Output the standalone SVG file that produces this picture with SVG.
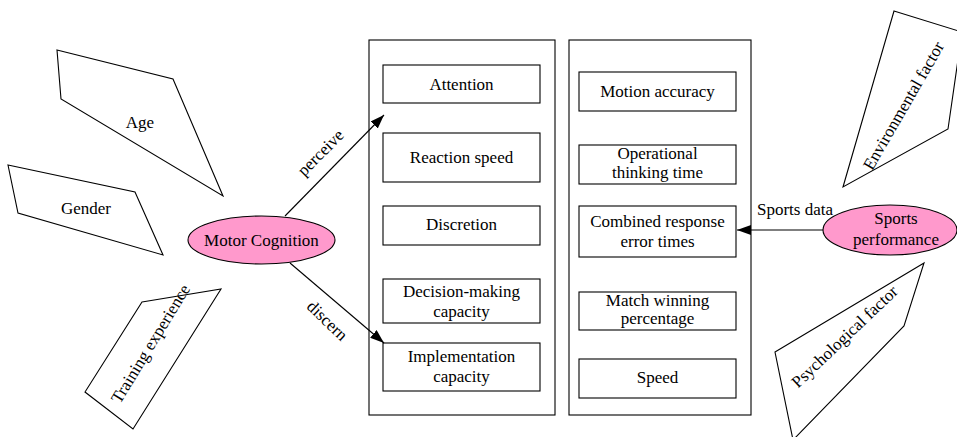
<svg xmlns="http://www.w3.org/2000/svg" width="957" height="437" viewBox="0 0 957 437">
  <style>
    .shape { fill: #ffffff; stroke: #000000; stroke-width: 1.1; }
    .oval { fill: #ff99cc; stroke: #000000; stroke-width: 1.1; }
    .edge { fill: none; stroke: #000000; stroke-width: 1.1; }
    text { font-family: "Liberation Serif", "Times New Roman", serif; font-size: 17px; fill: #000000; text-anchor: middle; }
  </style>
  <defs>
    <marker id="arrow" markerWidth="14" markerHeight="10" refX="14" refY="5" orient="auto" markerUnits="userSpaceOnUse">
      <path d="M0,0 L14,5 L0,10 Z" fill="#000000"/>
    </marker>
  </defs>
  <rect width="957" height="437" fill="#ffffff"/>

  <!-- influencing factors, left -->
  <g id="age">
    <polygon class="shape" points="57,50 173,79 223,196 61,99"/>
    <text x="140" y="128">Age</text>
  </g>
  <g id="gender">
    <polygon class="shape" points="8,165 135,192 163,255 18,213"/>
    <text x="86" y="214">Gender</text>
  </g>
  <g id="training">
    <polygon class="shape" points="142,302 221,289 133,429 85,392"/>
    <text x="151" y="344" dy="0.3em" transform="rotate(-58.6 151 344)">Training experience</text>
  </g>

  <!-- central concept -->
  <g id="motor-cognition">
    <ellipse class="oval" cx="261.5" cy="240" rx="73.5" ry="24"/>
    <text x="261.5" y="246">Motor Cognition</text>
  </g>

  <!-- cognition components -->
  <g id="cognition-panel">
    <rect class="shape" x="369" y="40" width="186" height="375"/>
  </g>
  <g id="attention">
    <rect class="shape" x="383" y="65" width="157" height="38"/>
    <text x="461.5" y="90">Attention</text>
  </g>
  <g id="reaction-speed">
    <rect class="shape" x="383" y="133" width="157" height="49"/>
    <text x="461.5" y="163">Reaction speed</text>
  </g>
  <g id="discretion">
    <rect class="shape" x="383" y="206" width="157" height="39"/>
    <text x="461.5" y="230">Discretion</text>
  </g>
  <g id="decision-making">
    <rect class="shape" x="383" y="279" width="157" height="44"/>
    <text x="461.5" y="297">Decision-making</text>
    <text x="461.5" y="317">capacity</text>
  </g>
  <g id="implementation">
    <rect class="shape" x="383" y="343" width="157" height="48"/>
    <text x="461.5" y="362">Implementation</text>
    <text x="461.5" y="382">capacity</text>
  </g>

  <!-- performance indicators -->
  <g id="performance-panel">
    <rect class="shape" x="569" y="40" width="182" height="375"/>
  </g>
  <g id="motion-accuracy">
    <rect class="shape" x="579" y="72" width="157" height="39"/>
    <text x="657.5" y="97">Motion accuracy</text>
  </g>
  <g id="thinking-time">
    <rect class="shape" x="579" y="145" width="157" height="39"/>
    <text x="657.5" y="159">Operational</text>
    <text x="657.5" y="178">thinking time</text>
  </g>
  <g id="error-times">
    <rect class="shape" x="579" y="206" width="157" height="51"/>
    <text x="657.5" y="227">Combined response</text>
    <text x="657.5" y="247">error times</text>
  </g>
  <g id="winning-percentage">
    <rect class="shape" x="579" y="292" width="157" height="38"/>
    <text x="657.5" y="306">Match winning</text>
    <text x="657.5" y="324">percentage</text>
  </g>
  <g id="speed">
    <rect class="shape" x="579" y="359" width="157" height="39"/>
    <text x="657.5" y="383">Speed</text>
  </g>

  <!-- influencing factors, right -->
  <g id="environmental">
    <polygon class="shape" points="894,11 962,32 948,129 843,187"/>
    <text x="904" y="106" dy="0.3em" transform="rotate(-60 904 106)">Environmental factor</text>
  </g>
  <g id="psychological">
    <polygon class="shape" points="775,352 924,263 904,326 793,440"/>
    <text x="845" y="337" dy="0.3em" transform="rotate(-43.6 845 337)">Psychological factor</text>
  </g>
  <g id="sports-performance">
    <ellipse class="oval" cx="890" cy="230" rx="67" ry="25"/>
    <text x="896" y="224">Sports</text>
    <text x="896" y="245">performance</text>
  </g>

  <!-- connectors -->
  <g id="connectors">
    <line class="edge" x1="285" y1="216" x2="384" y2="115" marker-end="url(#arrow)"/>
    <text x="321" y="153" dy="0.3em" transform="rotate(-45 321 153)">perceive</text>
    <line class="edge" x1="290" y1="263" x2="384" y2="343" marker-end="url(#arrow)"/>
    <text x="327" y="321" dy="0.3em" transform="rotate(44 327 321)">discern</text>
    <line class="edge" x1="823" y1="230" x2="737" y2="230" marker-end="url(#arrow)"/>
    <text x="795" y="215">Sports data</text>
  </g>
</svg>
